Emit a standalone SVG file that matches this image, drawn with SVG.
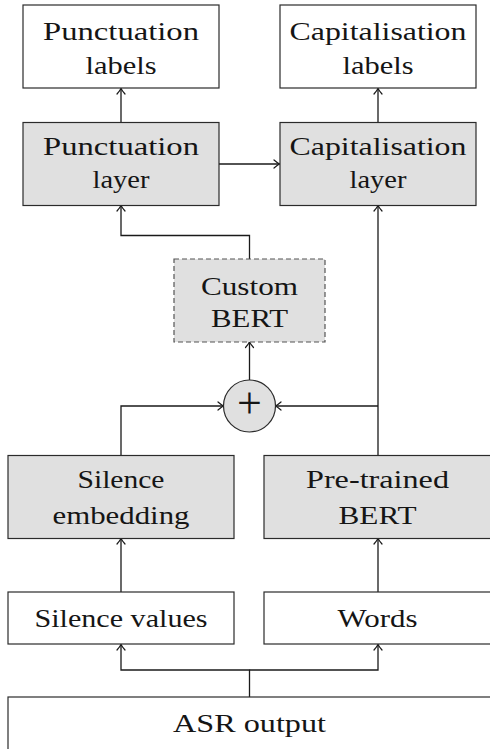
<svg xmlns="http://www.w3.org/2000/svg" width="490" height="749" viewBox="0 0 490 749">
<style>
.box{fill:#ffffff;stroke:#2b2b2b;stroke-width:1.2}
.grey{fill:#e0e0e0;stroke:#2b2b2b;stroke-width:1.2}
.dash{fill:#e0e0e0;stroke:#555555;stroke-width:1.2;stroke-dasharray:5 3}
.t{font-family:"Liberation Serif","Times New Roman",serif;font-size:25.5px;fill:#151515;text-anchor:middle}
.c{fill:none;stroke:#1a1a1a;stroke-width:1.3}
</style>
<defs>
<marker id="arr" markerUnits="userSpaceOnUse" markerWidth="12" markerHeight="12" viewBox="-8 -6 10 12" refX="0" refY="0" orient="auto">
<path d="M-5.5,-4 Q-2,-1 0,0 Q-2,1 -5.5,4" fill="none" stroke="#1a1a1a" stroke-width="1.2" stroke-linecap="round"/>
</marker>
</defs>
<rect width="490" height="749" fill="#ffffff"/>
<g id="connectors">
<path class="c" d="M121,122.5 V88.5" marker-end="url(#arr)"/>
<path class="c" d="M378,122.5 V88.5" marker-end="url(#arr)"/>
<path class="c" d="M219,164 H279.5" marker-end="url(#arr)"/>
<path class="c" d="M249.5,259 V235.5 H121 V205.5" marker-end="url(#arr)"/>
<path class="c" d="M249.5,380 V342" marker-end="url(#arr)"/>
<path class="c" d="M121,455.5 V406 H223.5" marker-end="url(#arr)"/>
<path class="c" d="M378,406 H275.5" marker-end="url(#arr)"/>
<path class="c" d="M378,455.5 V205.5" marker-end="url(#arr)"/>
<path class="c" d="M121,592 V538.5" marker-end="url(#arr)"/>
<path class="c" d="M378,592 V538.5" marker-end="url(#arr)"/>
<path class="c" d="M249.5,697 V670 H121 V644.5" marker-end="url(#arr)"/>
<path class="c" d="M249.5,670 H378 V644.5" marker-end="url(#arr)"/>
</g>
<g id="punct-labels">
<rect class="box" x="23" y="5" width="196" height="83"/>
<text class="t" x="121" y="39.5" textLength="156" lengthAdjust="spacingAndGlyphs">Punctuation</text>
<text class="t" x="121" y="73.5" textLength="71" lengthAdjust="spacingAndGlyphs">labels</text>
</g>
<g id="cap-labels">
<rect class="box" x="280" y="5" width="196" height="83"/>
<text class="t" x="378" y="39.5" textLength="177" lengthAdjust="spacingAndGlyphs">Capitalisation</text>
<text class="t" x="378" y="73.5" textLength="71" lengthAdjust="spacingAndGlyphs">labels</text>
</g>
<g id="punct-layer">
<rect class="grey" x="23" y="122.5" width="196" height="83"/>
<text class="t" x="121" y="154.5" textLength="156" lengthAdjust="spacingAndGlyphs">Punctuation</text>
<text class="t" x="121" y="188" textLength="57" lengthAdjust="spacingAndGlyphs">layer</text>
</g>
<g id="cap-layer">
<rect class="grey" x="280" y="122.5" width="196" height="83"/>
<text class="t" x="378" y="154.5" textLength="177" lengthAdjust="spacingAndGlyphs">Capitalisation</text>
<text class="t" x="378" y="188" textLength="57" lengthAdjust="spacingAndGlyphs">layer</text>
</g>
<g id="custom-bert">
<rect class="dash" x="174" y="259" width="151" height="83"/>
<text class="t" x="249.5" y="295" textLength="97" lengthAdjust="spacingAndGlyphs">Custom</text>
<text class="t" x="249.5" y="326.5" textLength="77" lengthAdjust="spacingAndGlyphs">BERT</text>
</g>
<g id="plus">
<circle cx="249.5" cy="406" r="26" fill="#e0e0e0" stroke="#2b2b2b" stroke-width="1.2"/>
<text x="249.5" y="417.5" font-family="Liberation Serif, serif" font-size="44" fill="#151515" text-anchor="middle">+</text>
</g>
<g id="silence-embedding">
<rect class="grey" x="8" y="455.5" width="226" height="83"/>
<text class="t" x="121" y="487.5" textLength="87" lengthAdjust="spacingAndGlyphs">Silence</text>
<text class="t" x="121" y="524" textLength="137" lengthAdjust="spacingAndGlyphs">embedding</text>
</g>
<g id="pretrained-bert">
<rect class="grey" x="264" y="455.5" width="227" height="83"/>
<text class="t" x="377.5" y="487.5" textLength="143" lengthAdjust="spacingAndGlyphs">Pre-trained</text>
<text class="t" x="377.5" y="524" textLength="78" lengthAdjust="spacingAndGlyphs">BERT</text>
</g>
<g id="silence-values">
<rect class="box" x="8" y="592" width="226" height="52"/>
<text class="t" x="121" y="626.5" textLength="173" lengthAdjust="spacingAndGlyphs">Silence values</text>
</g>
<g id="words">
<rect class="box" x="264" y="592" width="227" height="52"/>
<text class="t" x="377.5" y="626.5" textLength="80" lengthAdjust="spacingAndGlyphs">Words</text>
</g>
<g id="asr-output">
<rect class="box" x="8" y="697" width="483" height="60"/>
<text class="t" x="249.5" y="731.5" textLength="153" lengthAdjust="spacingAndGlyphs">ASR output</text>
</g>
</svg>
